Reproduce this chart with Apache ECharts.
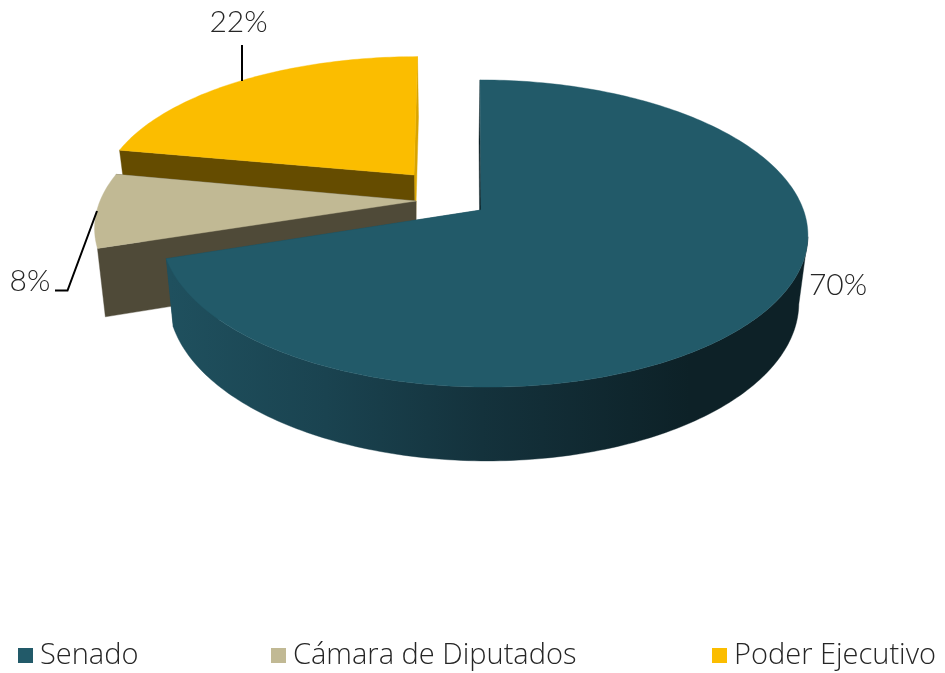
<!DOCTYPE html>
<html><head><meta charset="utf-8">
<style>html,body{margin:0;padding:0;background:#fff}#c{width:945px;height:673px}</style>
<script src="https://cdn.jsdelivr.net/npm/echarts@6/dist/echarts.min.js"></script>
</head><body><div id="c"></div>
<script>
const categories = ['Senado', 'Cámara de Diputados', 'Poder Ejecutivo'];
const shares = [70, 8, 22];

// Appearance only: projection of the tilted pie and per-slice placement
const colors = ['#225a69', '#c1b994', '#fbbd00'];
const wallColors = ['#1d4c5a', '#4f4a38', '#654c00'];
const endWallColors = ['#0d2127', '#4f4a38', '#d9a400'];
const view = { rx: 316, ry: 150, depth: 68, persp: 0.153, shrink: 0.025 };
const place = [
  { cx: 481, cy: 210, kx: 1.011, ky: 1, lean: 4, drift: 3, shift: -1 },
  { cx: 416, cy: 201, kx: 1, ky: 0.975, lean: -10, drift: 0, shift: 0 },
  { cx: 414, cy: 175, kx: 0.978, ky: 0.91, lean: -3.5, drift: 0, shift: 1 }
];
const labelStyle = [
  { x: 838, y: 285, line: null },
  { x: 30, y: 281, line: [[55, 290.5], [67.5, 290.5], [97, 211]] },
  { x: 238.5, y: 22, line: [[242, 45], [242, 81]] }
];
const labelFont = { fontFamily: 'Lato', fontWeight: 300, fontSize: 30, fill: '#262626' };

const total = shares.reduce((a, b) => a + b, 0);
const starts = shares.map((_, i) => shares.slice(0, i).reduce((a, b) => a + b, 0) / total * 360);

function project(p, deg, z, r) {
  const a = deg * Math.PI / 180, u = Math.sin(a) * r, v = -Math.cos(a) * r;
  const s = (1 - view.shrink * z) / (1 - view.persp * v);
  return [
    p.cx + view.rx * p.kx * u * s + p.lean * v + p.drift * r + p.shift * z,
    p.cy + (view.ry * p.ky * v + view.depth * z) * s
  ];
}
function arc(p, a0, a1, z) {
  const pts = [], n = Math.max(2, Math.ceil(Math.abs(a1 - a0)));
  for (let k = 0; k <= n; k++) pts.push(project(p, a0 + (a1 - a0) * k / n, z, 1));
  return pts;
}
function poly(points, fill) {
  return { type: 'polygon', shape: { points }, style: { fill, stroke: fill, lineWidth: 0.4 }, silent: true };
}
function cutFace(p, deg, fill) {
  return poly([project(p, 0, 0, 0), project(p, deg, 0, 1), project(p, deg, 1, 1), project(p, 0, 1, 0)], fill);
}
function renderSlice(i) {
  const p = place[i], a0 = starts[i], a1 = a0 + shares[i] / total * 360;
  const kids = [];
  // cut faces: the far end first, so the face turned to the viewer stays on top
  kids.push(cutFace(p, i === 0 ? a0 : a1, endWallColors[i]));
  kids.push(cutFace(p, i === 0 ? a1 : a0, wallColors[i]));
  // outer rim, only for the slice that faces the viewer
  if (i === 0) {
    const from = 100;
    kids.push(poly(arc(p, from, a1, 0).concat(arc(p, a1, from, 1)), {
      type: 'linear', x: 170, y: 0, x2: 690, y2: 0, global: true,
      colorStops: [
        { offset: 0, color: '#1f505e' },
        { offset: 0.3, color: '#1a4350' },
        { offset: 0.6, color: '#14323c' },
        { offset: 1, color: '#0d2127' }
      ]
    }));
  }
  // top face
  kids.push(poly([project(p, 0, 0, 0)].concat(arc(p, a0, a1, 0)), colors[i]));
  const l = labelStyle[i];
  if (l.line) kids.push({ type: 'polyline', shape: { points: l.line }, style: { stroke: '#000', lineWidth: 2, fill: null }, silent: true });
  kids.push({ type: 'text', x: l.x, y: l.y, silent: true,
    style: Object.assign({ text: shares[i] + '%', align: 'center', verticalAlign: 'middle' }, labelFont) });
  return { type: 'group', children: kids };
}

const order = [2, 1, 0];
const series = order.map(i => ({
  type: 'custom', name: categories[i], coordinateSystem: 'none',
  data: [shares[i]], itemStyle: { color: colors[i] }, silent: true,
  renderItem: () => renderSlice(i)
}));
const legendLeft = [18, 271, 712];
const legend = categories.map((name, i) => ({
  data: [name], left: legendLeft[i], top: 641, padding: 0, itemWidth: 15, itemHeight: 15,
  icon: 'rect', selectedMode: false,
  textStyle: { fontFamily: 'Open Sans', fontWeight: 300, fontSize: 29, color: '#262626', padding: [0, 0, 0, 2] }
}));
const chart = echarts.init(document.getElementById('c'), null, { renderer: 'canvas' });
chart.setOption({ animation: false, backgroundColor: '#fff', legend, series });
</script></body></html>
